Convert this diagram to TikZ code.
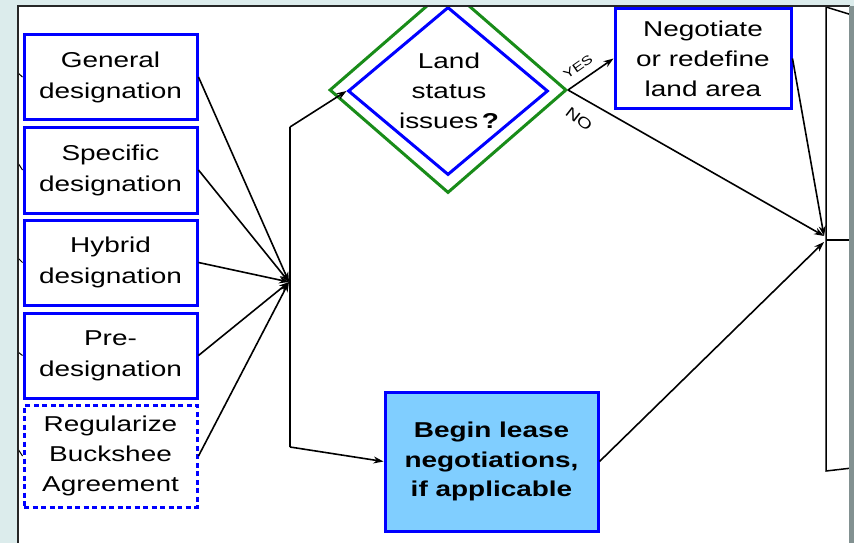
\documentclass[tikz,border=0pt]{standalone}
\usepackage{fontspec}
\setmainfont{Liberation Sans}[FakeStretch=1.3]
\usetikzlibrary{shapes.geometric,arrows.meta,calc}
\definecolor{pagebg}{RGB}{220,236,236}
\definecolor{edgegray}{RGB}{130,145,145}
\definecolor{boxblue}{RGB}{0,0,255}
\definecolor{decgreen}{RGB}{25,140,25}
\definecolor{leasefill}{RGB}{128,206,255}

\begin{document}
\begin{tikzpicture}[x=1pt,y=-1pt,
  stagebox/.style={draw=boxblue, line width=3pt, fill=white, align=center,
    inner sep=0pt, minimum width=173pt,
    font=\fontsize{21.5}{31}\selectfont},
  flow/.style={draw=black, line width=1.6pt, -{Stealth[length=10pt,width=7pt]}},
  plain/.style={draw=black, line width=1.5pt},
  stub/.style={draw=black, line width=1pt},
  choice/.style={diamond, inner sep=0pt, line width=3pt, fill=none},
  branch/.style={inner sep=0pt},
]
% page background and white panel
\fill[pagebg] (0,0) rectangle (854,543);
\useasboundingbox (0,0) rectangle (854,543);
\fill[white] (18,6) rectangle (850,543);

\begin{scope}
\clip (18,6) rectangle (850,543);

% designation types
\node[stagebox, minimum height=84pt] (gen) at (110.5,77) {General\\designation};
\node[stagebox, minimum height=86pt] (spe) at (110.5,170) {Specific\\designation};
\node[stagebox, minimum height=85pt] (hyb) at (110.5,262.5) {Hybrid\\designation};
\node[stagebox, minimum height=85pt] (pre) at (110.5,355.5) {Pre-\\designation};
\node[stagebox, minimum height=102pt, dash pattern=on 5pt off 3.5pt,
  font=\fontsize{21.5}{30}\selectfont] (reg) at (110.5,456) {Regularize\\Buckshee\\Agreement};

% incoming stubs from the left edge
\coordinate (s1) at (18,73);
\coordinate (s2) at (18,163);
\coordinate (s3) at (18,258);
\coordinate (s4) at (18,352);
\coordinate (s5) at (18,449);
\draw[stub] (s1) -- (gen.west);
\draw[stub] (s2) -- (spe.west);
\draw[stub] (s3) -- (hyb.west);
\draw[stub] (s4) -- (pre.west);
\draw[stub] (s5) -- (reg.west);

% junction and trunk
\coordinate (jn) at (289,282);
\coordinate (vt) at (290,127);
\coordinate (vb) at (290,447);
\draw[flow] (gen.east) -- (jn);
\draw[flow] (spe.east) -- (jn);
\draw[flow] (hyb.east) -- (jn);
\draw[flow] (pre.east) -- (jn);
\draw[flow] (reg.east) -- (jn);
\draw[plain] (vt) -- (vb);

% decision
\node[choice, draw=decgreen, minimum width=237pt, minimum height=206pt] (qo) at (448,90) {};
\node[choice, draw=boxblue, minimum width=200pt, minimum height=168pt] (q) at (448,91) {};
\node[align=center, font=\fontsize{21.5}{30}\selectfont] (qt) at (449,91) {Land\\status\\issues\,\textbf{?}};

% actions
\node[stagebox, minimum width=176pt, minimum height=99pt,
  font=\fontsize{21.5}{30}\selectfont] (neg) at (703,58.5) {Negotiate\\or redefine\\land area};
\node[stagebox, fill=leasefill, minimum width=213pt, minimum height=139pt,
  font=\fontsize{21.5}{29.5}\selectfont\bfseries] (lease) at (491.5,461.5) {Begin lease\\negotiations,\\if applicable};

% next stage (partly outside the panel)
\coordinate (rTL) at (826,7);
\coordinate (rML) at (826,240);
\coordinate (rBL) at (826,471);
\coordinate (rTR) at (852,15);
\coordinate (rMR) at (852,240);
\coordinate (rBR) at (852,468);
\draw[plain] (rTR) -- (rTL) -- (rBL) -- (rBR);
\draw[plain] (rML) -- (rMR);
\coordinate (rin1) at (824,236);
\coordinate (rin2) at (824,242);

% connectors
\draw[flow] (vt) -- (q.west);
\draw[flow] (vb) -- (lease.west);
\draw[flow] (qo.east) -- (neg.west);
\draw[flow] (qo.east) -- (rin1);
\draw[flow] (neg.east) -- (rin1);
\draw[flow] (lease.east) -- (rin2);

% branch labels
\node[branch, rotate=35, font=\fontsize{12.5}{12.5}\selectfont] (yes) at (578,67) {YES};
\node[branch, rotate=-38, font=\fontsize{15}{15}\selectfont] (no) at (579,119) {NO};
\end{scope}

% panel frame
\draw[line width=1.5pt, black!85] (18,543) -- (18,6) -- (850,6);
\fill[edgegray] (849,6) rectangle (854,543);
\end{tikzpicture}
\end{document}
